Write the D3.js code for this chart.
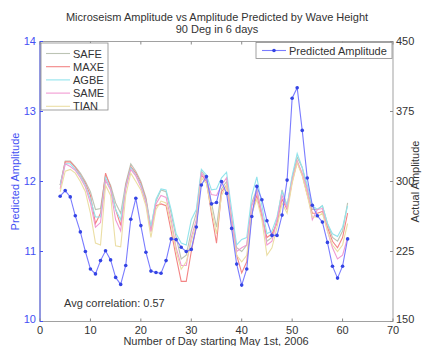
<!DOCTYPE html>
<html>
<head>
<meta charset="utf-8">
<script src="https://cdn.jsdelivr.net/npm/d3@7"></script>
<style>
  body { margin: 0; background: #fff; }
  svg text { font-family: "Liberation Sans", Arial, sans-serif; }
</style>
</head>
<body>
<div id="chart"></div>
<script>
// days 4..61
const days = d3.range(4, 62);

// predicted amplitude (left axis)
const predicted = [11.79, 11.87, 11.78, 11.51, 11.28, 11.0, 10.75, 10.68, 10.87, 11.01,
  10.88, 10.63, 10.53, 10.8, 11.46, 11.76, 11.37, 10.99, 10.72, 10.7,
  10.69, 10.87, 11.18, 11.17, 11.06, 11.0, 11.03, 11.35, 11.95, 12.07,
  11.68, 11.7, 12.0, 11.83, 11.33, 10.82, 10.52, 10.75, 11.5, 11.93,
  11.74, 11.44, 11.23, 11.23, 11.52, 12.02, 13.19, 13.34, 12.73, 12.05,
  11.66, 11.51, 11.42, 11.13, 10.79, 10.62, 10.79, 11.18];

// actual amplitude per station (right axis)
const safe = [296, 322, 322, 316, 309, 300, 289, 270, 271, 307, 296, 277, 266, 298, 319, 311, 300, 283, 251, 279,
  291, 289, 266, 240, 217, 221, 247, 266, 311, 304, 277, 251, 292, 300, 262, 229, 225, 232, 277, 292,
  266, 236, 240, 259, 291, 274, 304, 326, 315, 292, 270, 270, 274, 255, 240, 236, 247, 277];
const maxe = [296, 321, 321, 315, 307, 298, 285, 255, 266, 309, 294, 270, 253, 296, 316, 309, 298, 281, 247, 274,
  276, 274, 247, 219, 193, 193, 225, 251, 307, 300, 266, 234, 289, 296, 255, 221, 202, 214, 266, 285,
  262, 240, 244, 255, 281, 270, 300, 321, 307, 286, 266, 266, 268, 251, 236, 229, 240, 266];
const agbe = [296, 319, 319, 313, 306, 296, 281, 262, 262, 304, 292, 270, 259, 294, 315, 307, 296, 279, 251, 281,
  292, 291, 270, 244, 234, 232, 259, 270, 313, 307, 291, 292, 304, 310, 270, 232, 238, 240, 285, 305,
  274, 244, 247, 262, 289, 274, 306, 330, 315, 296, 274, 270, 274, 255, 244, 241, 251, 274];
const same = [292, 319, 316, 312, 304, 294, 277, 251, 256, 301, 291, 259, 247, 292, 313, 306, 294, 277, 246, 276,
  285, 283, 259, 229, 210, 210, 240, 259, 309, 301, 286, 285, 296, 304, 259, 225, 229, 232, 274, 289,
  266, 232, 236, 259, 285, 271, 301, 322, 309, 291, 259, 270, 271, 247, 229, 217, 221, 240];
const tian = [289, 311, 313, 309, 300, 289, 266, 234, 232, 296, 285, 231, 230, 285, 309, 300, 291, 274, 240, 270,
  279, 277, 255, 225, 206, 214, 236, 255, 304, 298, 270, 244, 285, 296, 251, 221, 214, 221, 266, 281,
  259, 221, 229, 251, 277, 266, 298, 320, 306, 285, 262, 262, 266, 247, 232, 225, 232, 255];

const stations = ['SAFE', 'MAXE', 'AGBE', 'SAME', 'TIAN'];
const stationValues = [safe, maxe, agbe, same, tian];
const stationColors = ['#bcc4b4', '#f38585', '#92e4ec', '#f19ad2', '#ebdea4'];

const xTicks = [0, 10, 20, 30, 40, 50, 60, 70];
const leftTicks = [10, 11, 12, 13, 14];
const rightTicks = [150, 225, 300, 375, 450];

const width = 425, height = 346;
const plot = { left: 40, right: 393, top: 41.5, bottom: 321.5 };
const blue = '#4450f4';
const frame = '#8a8a8a';
const fs = '11px';

const x = d3.scaleLinear().domain([0, 70]).range([plot.left, plot.right]);
const yL = d3.scaleLinear().domain([10, 14]).range([plot.bottom, plot.top]);
const yR = d3.scaleLinear().domain([150, 450]).range([plot.bottom, plot.top]);

const svg = d3.select('#chart').append('svg')
    .attr('width', width)
    .attr('height', height);

// title
svg.append('text')
    .attr('x', 217).attr('y', 21)
    .attr('text-anchor', 'middle')
    .style('font-size', fs).attr('fill', '#333')
    .text('Microseism Amplitude vs Amplitude Predicted by Wave Height');
svg.append('text')
    .attr('x', 217).attr('y', 33)
    .attr('text-anchor', 'middle')
    .style('font-size', fs).attr('fill', '#333')
    .text('90 Deg in 6 days');

// station lines
stationValues.forEach((vals, i) => {
    svg.append('path')
        .datum(vals)
        .attr('fill', 'none')
        .attr('stroke', stationColors[i])
        .attr('stroke-width', 1.1)
        .attr('d', d3.line().x((d, j) => x(days[j])).y(d => yR(d)));
});

// predicted line
svg.append('path')
    .datum(predicted)
    .attr('fill', 'none')
    .attr('stroke', '#7a7cff')
    .attr('stroke-width', 1.1)
    .attr('d', d3.line().x((d, j) => x(days[j])).y(d => yL(d)));

svg.append('g').selectAll('circle')
    .data(predicted)
    .join('circle')
    .attr('cx', (d, j) => x(days[j]))
    .attr('cy', d => yL(d))
    .attr('r', 1.8)
    .attr('fill', '#3444e4');

// frame
svg.append('rect')
    .attr('x', plot.left).attr('y', plot.top)
    .attr('width', plot.right - plot.left).attr('height', plot.bottom - plot.top)
    .attr('fill', 'none').attr('stroke', frame).attr('stroke-width', 0.8);
svg.append('line')
    .attr('x1', plot.left).attr('x2', plot.left)
    .attr('y1', plot.top).attr('y2', plot.bottom)
    .attr('stroke', blue).attr('stroke-width', 0.9);

// x ticks (bottom + top, inward)
const xAxis = svg.append('g');
xTicks.forEach(t => {
    xAxis.append('line').attr('x1', x(t)).attr('x2', x(t))
        .attr('y1', plot.bottom).attr('y2', plot.bottom - 3).attr('stroke', frame);
    xAxis.append('line').attr('x1', x(t)).attr('x2', x(t))
        .attr('y1', plot.top).attr('y2', plot.top + 3).attr('stroke', frame);
    xAxis.append('text')
        .attr('x', x(t)).attr('y', plot.bottom + 12)
        .attr('text-anchor', 'middle')
        .style('font-size', fs).attr('fill', '#333')
        .text(t);
});
svg.append('text')
    .attr('x', 216).attr('y', 345)
    .attr('text-anchor', 'middle')
    .style('font-size', fs).attr('fill', '#333')
    .text('Number of Day starting May 1st, 2006');

// left axis
leftTicks.forEach(t => {
    svg.append('line').attr('x1', plot.left).attr('x2', plot.left + 3)
        .attr('y1', yL(t)).attr('y2', yL(t)).attr('stroke', blue);
    svg.append('text')
        .attr('x', plot.left - 4).attr('y', t === 10 ? yL(t) + 1 : yL(t) + 3.5)
        .attr('text-anchor', 'end')
        .style('font-size', fs).attr('fill', blue)
        .text(t);
});
svg.append('text')
    .attr('transform', `translate(19, ${(plot.top + plot.bottom) / 2}) rotate(-90)`)
    .attr('text-anchor', 'middle')
    .style('font-size', fs).attr('fill', blue)
    .text('Predicted Amplitude');

// right axis
rightTicks.forEach(t => {
    svg.append('line').attr('x1', plot.right).attr('x2', plot.right - 3)
        .attr('y1', yR(t)).attr('y2', yR(t)).attr('stroke', frame);
    svg.append('text')
        .attr('x', plot.right + 3).attr('y', t === 150 ? yR(t) + 1 : yR(t) + 3.5)
        .attr('text-anchor', 'start')
        .style('font-size', fs).attr('fill', '#333')
        .text(t);
});
svg.append('text')
    .attr('transform', `translate(419, ${(plot.top + plot.bottom) / 2}) rotate(-90)`)
    .attr('text-anchor', 'middle')
    .style('font-size', fs).attr('fill', '#333')
    .text('Actual Amplitude');

// station legend
const leg = svg.append('g').attr('transform', 'translate(41, 43)');
leg.append('rect').attr('width', 67).attr('height', 67)
    .attr('fill', '#fff').attr('stroke', frame).attr('stroke-width', 0.8);
stations.forEach((s, i) => {
    const yy = 10.5 + i * 13.2;
    leg.append('line').attr('x1', 5).attr('x2', 29)
        .attr('y1', yy).attr('y2', yy)
        .attr('stroke', stationColors[i]).attr('stroke-width', 1.1);
    leg.append('text').attr('x', 32).attr('y', yy + 4)
        .style('font-size', fs).attr('fill', '#333')
        .text(s);
});

// predicted legend
const leg2 = svg.append('g').attr('transform', 'translate(256, 42.5)');
leg2.append('rect').attr('width', 136).attr('height', 16)
    .attr('fill', '#fff').attr('stroke', frame).attr('stroke-width', 0.8);
leg2.append('line').attr('x1', 6).attr('x2', 30).attr('y1', 8).attr('y2', 8)
    .attr('stroke', '#7a7cff').attr('stroke-width', 1.1);
leg2.append('circle').attr('cx', 18).attr('cy', 8).attr('r', 1.8).attr('fill', '#3444e4');
leg2.append('text').attr('x', 33).attr('y', 12)
    .style('font-size', fs).attr('fill', '#333')
    .text('Predicted Amplitude');

// correlation note
svg.append('text')
    .attr('x', 64).attr('y', 307)
    .style('font-size', fs).attr('fill', '#333')
    .text('Avg correlation: 0.57');
</script>
</body>
</html>
